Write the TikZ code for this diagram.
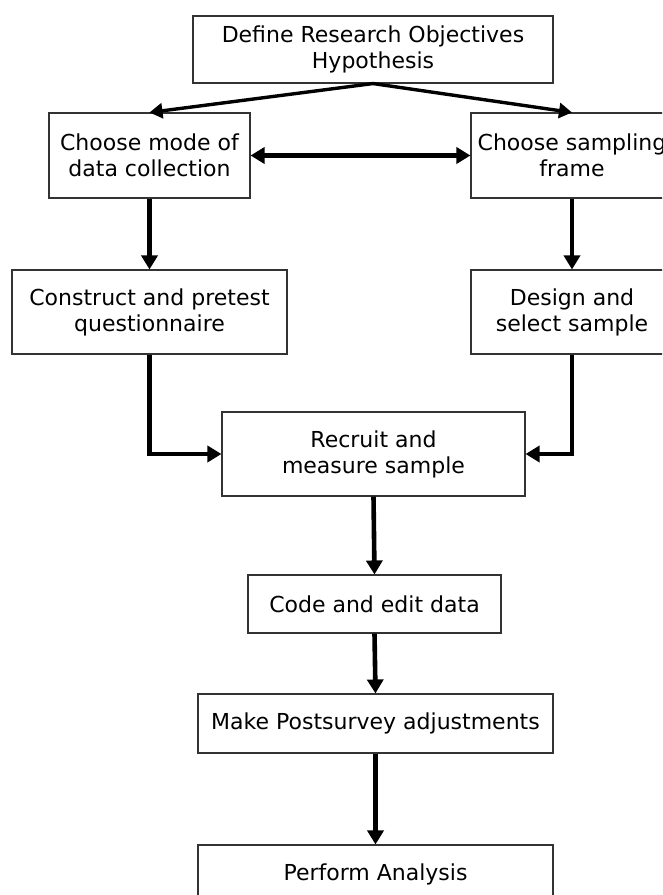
\documentclass[tikz,border=0pt]{standalone}
\usepackage{fontspec}
\setmainfont{DejaVu Sans}
\usetikzlibrary{arrows.meta}
\begin{document}
\begin{tikzpicture}[x=1pt,y=-1pt,
  box/.style={draw=black!80, line width=1.1pt, fill=white, inner sep=0pt,
    align=center, font=\fontsize{22}{26}\selectfont, text=black},
  arr/.style={line width=4.6pt, -{Triangle[length=14pt,width=16pt]}},
  darr/.style={line width=4.6pt, {Triangle[length=14pt,width=16pt]}-{Triangle[length=14pt,width=16pt]}},
  thinarr/.style={line width=3.4pt, -{Triangle[length=13pt,width=15pt]}}]
\clip (0,0) rectangle (662,895);
\fill[white] (0,0) rectangle (662,895);
\node[box, minimum width=360pt, minimum height=67pt] (top) at (373,49.5) {Define Research Objectives\\Hypothesis};
\node[box, minimum width=201pt, minimum height=85pt] (mode) at (149.5,155.5) {Choose mode of\\data collection};
\node[box, minimum width=202pt, minimum height=85pt] (frame) at (572,155.5) {Choose sampling\\frame};
\node[box, minimum width=275pt, minimum height=84pt] (construct) at (149.5,312) {Construct and pretest\\questionnaire};
\node[box, minimum width=202pt, minimum height=84pt] (design) at (572,312) {Design and\\select sample};
\node[box, minimum width=303pt, minimum height=84pt] (recruit) at (373.5,454) {Recruit and\\measure sample};
\node[box, minimum width=253pt, minimum height=58pt] (code) at (374.5,604) {Code and edit data};
\node[box, minimum width=355pt, minimum height=59pt] (make) at (375.5,723.5) {Make Postsurvey adjustments};
\node[box, minimum width=355pt, minimum height=59pt] (perform) at (375.5,874.5) {Perform Analysis};
\draw[thinarr] (top.south) -- (mode.north);
\draw[thinarr] (top.south) -- (frame.north);
\draw[darr] (mode.east) -- (frame.west);
\draw[arr] (mode.south) -- (construct.north);
\draw[arr] (frame.south) -- (design.north);
\draw[arr] (construct.south) |- (recruit.west);
\draw[arr] (design.south) |- (recruit.east);
\draw[arr] (recruit.south) -- (code.north);
\draw[arr] (code.south) -- (make.north);
\draw[arr] (make.south) -- (perform.north);
\end{tikzpicture}
\end{document}
